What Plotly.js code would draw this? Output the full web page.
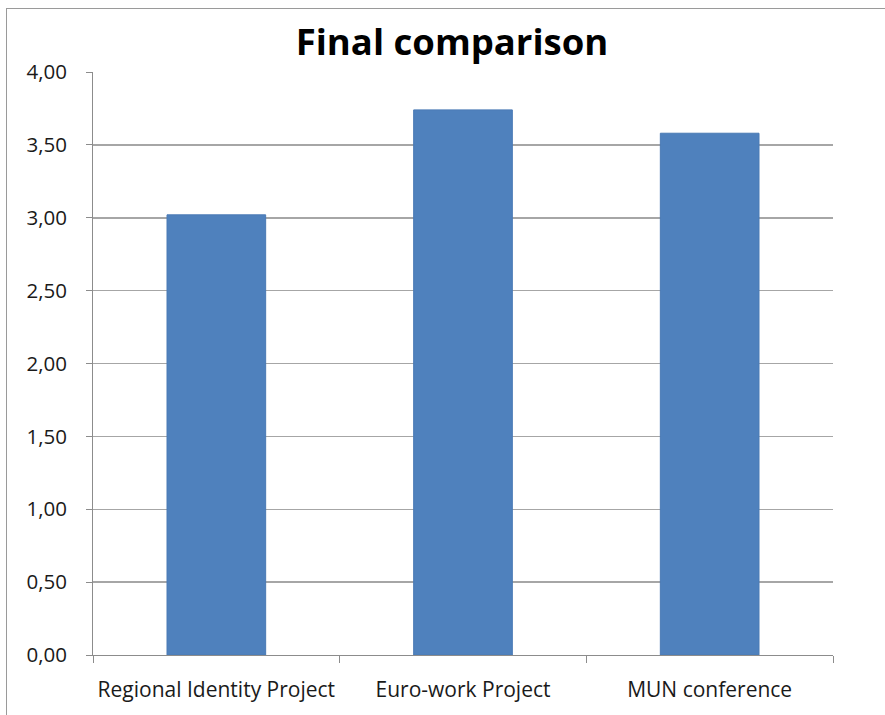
<!DOCTYPE html>
<html>
<head>
<meta charset="utf-8">
<script src="https://cdn.plot.ly/plotly-3.0.1.min.js"></script>
<style>
html,body{margin:0;padding:0;background:#fff;}
#frame{position:absolute;left:6px;top:8px;width:900px;height:720px;border:1.5px solid #9a9a9a;box-sizing:border-box;}
#chart{position:absolute;left:0;top:0;width:885px;height:715px;}
</style>
</head>
<body>
<div id="frame"></div>
<div id="chart"></div>
<script>
const categories = ["Regional Identity Project", "Euro-work Project", "MUN conference"];
const values = [3.02, 3.74, 3.58];
const yTicks = [0, 0.5, 1, 1.5, 2, 2.5, 3, 3.5, 4];

const trace = {
  type: "bar",
  x: categories,
  y: values,
  marker: {color: "#4f81bd", line: {color: "#4a7ab5", width: 1}},
  hoverinfo: "skip"
};

const FONT = "'Open Sans', Lato, sans-serif";

const layout = {
  width: 885, height: 715,
  margin: {l: 93, r: 52, t: 72, b: 60},
  paper_bgcolor: "rgba(0,0,0,0)",
  plot_bgcolor: "rgba(0,0,0,0)",
  separators: ",.",
  bargap: 0.6,
  showlegend: false,
  font: {family: FONT, color: "#000"},
  title: {
    text: "<b>Final comparison</b>",
    font: {size: 36.5, family: FONT, color: "#000"},
    x: 452/885, xanchor: "center",
    y: 1 - 42/715, yanchor: "middle", yref: "container"
  },
  xaxis: {
    type: "category",
    showline: true, linecolor: "#8c8c8c", linewidth: 1,
    ticks: "outside", tickson: "boundaries", ticklen: 7, tickcolor: "#8c8c8c",
    ticklabelstandoff: 16, tickangle: 0,
    tickfont: {size: 21, color: "#1a1a1a", family: FONT},
    showgrid: false, zeroline: false
  },
  yaxis: {
    range: [0, 4], tickvals: yTicks, tickformat: ".2f",
    showline: true, linecolor: "#8c8c8c", linewidth: 1,
    ticks: "outside", ticklen: 6, tickcolor: "#8c8c8c",
    ticklabelstandoff: 15,
    tickfont: {size: 20.5, color: "#1a1a1a", family: FONT},
    showgrid: true, gridcolor: "#a6a6a6", gridwidth: 1.5,
    zeroline: false
  }
};

Plotly.newPlot("chart", [trace], layout, {displayModeBar: false, staticPlot: true});
</script>
</body>
</html>
